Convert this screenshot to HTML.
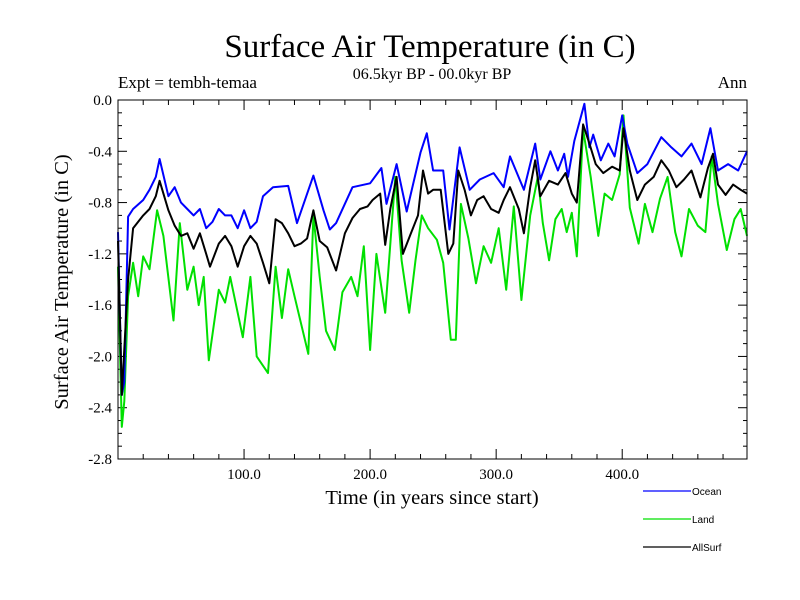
<!DOCTYPE html>
<html><head><meta charset="utf-8"><style>
html,body{margin:0;padding:0;background:#fff;width:800px;height:600px;overflow:hidden}
svg text{font-family:"Liberation Serif",serif}
</style></head><body>
<svg id="chart" width="800" height="600" xmlns="http://www.w3.org/2000/svg">
<text x="430" y="57" font-size="33" text-anchor="middle">Surface Air Temperature (in C)</text>
<text x="432" y="79" font-size="16" text-anchor="middle">06.5kyr BP - 00.0kyr BP</text>
<text x="118" y="88" font-size="17">Expt = tembh-temaa</text>
<text x="747" y="88" font-size="17" text-anchor="end">Ann</text>
<text transform="translate(68,282) rotate(-90)" font-size="20.5" text-anchor="middle">Surface Air Temperature (in C)</text>
<text x="432" y="504" font-size="20.5" text-anchor="middle">Time (in years since start)</text>
<g id="ticks"></g>
<g id="series"></g>
<rect x="118" y="100" width="629" height="359" fill="none" stroke="#000" stroke-width="1"/>
<g id="legend"></g>
</svg>
<script>
const oceanYears=[0,3,5,8,12,20,25,30,33,40,45,50,55,60,65,70,75,80,85,90,95,100,105,110,115,123,135,142,155,163,168,173,186,200,209,213,221,229,240,245,250,258,263,271,279,287,298,306,311,322,331,335,343,349,354,357,362,370,374,377,383,389,394,400,404,412,420,431,439,447,455,463,470,476,484,492,499];
const oceanVals=[-1.03,-2.3,-2.2,-0.91,-0.85,-0.78,-0.7,-0.6,-0.46,-0.75,-0.68,-0.8,-0.85,-0.9,-0.85,-1.0,-0.95,-0.85,-0.9,-0.9,-1.0,-0.86,-1.0,-0.95,-0.75,-0.68,-0.67,-0.96,-0.59,-0.86,-1.01,-0.96,-0.68,-0.65,-0.53,-0.81,-0.5,-0.87,-0.41,-0.26,-0.55,-0.55,-1.01,-0.37,-0.7,-0.62,-0.57,-0.68,-0.44,-0.7,-0.34,-0.62,-0.4,-0.55,-0.42,-0.6,-0.32,-0.03,-0.37,-0.27,-0.47,-0.34,-0.44,-0.12,-0.34,-0.57,-0.5,-0.29,-0.37,-0.44,-0.34,-0.5,-0.22,-0.55,-0.5,-0.55,-0.4];
const landYears=[0,3,5,8,12,16,20,25,31,36,44,49,55,60,64,68,72,80,85,89,99,105,110,119,125,130,135,140,151,155,160,165,172,178,185,190,195,200,205,212,220,225,231,236,241,246,253,258,264,268,272,278,284,290,296,302,308,314,320,327,333,337,342,347,352,356,360,364,369,375,381,386,392,398,401,406,413,418,424,430,436,442,447,453,460,466,471,476,483,489,494,499];
const landVals=[-1.3,-2.55,-2.35,-1.53,-1.27,-1.53,-1.22,-1.32,-0.86,-1.06,-1.72,-0.96,-1.48,-1.3,-1.6,-1.38,-2.03,-1.48,-1.58,-1.38,-1.85,-1.38,-2.0,-2.13,-1.3,-1.7,-1.32,-1.53,-1.98,-0.9,-1.38,-1.8,-1.95,-1.5,-1.38,-1.53,-1.14,-1.95,-1.2,-1.66,-0.6,-1.25,-1.66,-1.25,-0.9,-1.0,-1.09,-1.27,-1.87,-1.87,-0.81,-1.08,-1.43,-1.14,-1.27,-1.0,-1.48,-0.83,-1.56,-0.9,-0.6,-0.96,-1.25,-0.93,-0.85,-1.03,-0.88,-1.22,-0.23,-0.6,-1.06,-0.73,-0.78,-0.58,-0.12,-0.84,-1.12,-0.81,-1.03,-0.77,-0.6,-1.03,-1.22,-0.85,-0.98,-1.03,-0.44,-0.81,-1.17,-0.93,-0.85,-1.06];
const allYears=[0,3,8,12,20,25,30,33,40,45,50,55,60,65,70,73,80,85,90,95,100,105,110,115,120,125,130,135,140,145,150,155,160,166,173,180,186,192,198,202,208,212,216,221,226,232,238,242,246,250,256,262,266,270,275,280,285,290,296,302,306,311,318,322,327,331,335,342,349,355,360,364,369,374,379,385,392,398,401,406,412,418,425,431,437,443,449,455,462,468,472,476,482,488,494,499];
const allVals=[-1.1,-2.3,-1.4,-1.0,-0.9,-0.85,-0.75,-0.63,-0.86,-0.98,-1.06,-1.04,-1.16,-1.04,-1.2,-1.3,-1.12,-1.06,-1.14,-1.3,-1.14,-1.06,-1.12,-1.27,-1.43,-0.93,-0.96,-1.04,-1.14,-1.12,-1.08,-0.86,-1.1,-1.15,-1.33,-1.04,-0.92,-0.85,-0.83,-0.78,-0.73,-1.13,-0.85,-0.6,-1.2,-1.05,-0.9,-0.55,-0.73,-0.7,-0.7,-1.2,-1.12,-0.55,-0.7,-0.9,-0.78,-0.75,-0.85,-0.88,-0.78,-0.68,-0.85,-1.04,-0.68,-0.47,-0.75,-0.63,-0.66,-0.57,-0.73,-0.8,-0.19,-0.34,-0.5,-0.57,-0.52,-0.55,-0.22,-0.55,-0.78,-0.66,-0.6,-0.47,-0.55,-0.68,-0.62,-0.55,-0.76,-0.53,-0.42,-0.66,-0.74,-0.66,-0.7,-0.73];
const xTickLabels=["100.0","200.0","300.0","400.0"];
const xTickValues=[100,200,300,400];
const yTickValues=[0,-0.4,-0.8,-1.2,-1.6,-2.0,-2.4,-2.8];
const yTickLabels=["0.0","-0.4","-0.8","-1.2","-1.6","-2.0","-2.4","-2.8"];

const L=118,R=747,T=100,B=459,XMAX=499,YMIN=-2.8,YMAX=0;
function sx(t){return L+(t/XMAX)*(R-L);}
function sy(v){return T+(YMAX-v)/(YMAX-YMIN)*(B-T);}
const NS="http://www.w3.org/2000/svg";
function mk(tag,attrs,parent){const e=document.createElementNS(NS,tag);for(const k in attrs)e.setAttribute(k,attrs[k]);parent.appendChild(e);return e;}
const tk=document.getElementById('ticks');
for(let v=0;v>=-2.8001;v-=0.1){
  const y=sy(v);const major=Math.abs(Math.round(v*10)%4)===0;const len=major?9:4;
  let l=mk('line',{x1:L,x2:L+len,y1:y,y2:y,stroke:'#000'},tk);
  
  
  let r=mk('line',{x1:R-len,x2:R,y1:y,y2:y,stroke:'#000'},tk);
  
  
}
yTickValues.forEach((v,i)=>{
  const t=mk('text',{x:112,y:sy(v)+5,'font-size':15,'text-anchor':'end'},tk);t.textContent=yTickLabels[i];
  
  
});
for(let t=20;t<XMAX;t+=20){
  const x=sx(t);const major=t%100===0;const len=major?10:5;
  let a=mk('line',{x1:x,x2:x,y1:B,y2:B-len,stroke:'#000'},tk);
  
  
  let b=mk('line',{x1:x,x2:x,y1:T,y2:T+len,stroke:'#000'},tk);
  
  
}
xTickValues.forEach((v,i)=>{
  const t=mk('text',{x:sx(v),y:479,'font-size':15,'text-anchor':'middle'},tk);t.textContent=xTickLabels[i];
  
  
});
const sg=document.getElementById('series');
function draw(years,vals,color,name){
  const d=years.map((t,i)=>(i?'L':'M')+sx(t).toFixed(1)+','+sy(vals[i]).toFixed(1)).join(' ');
  const p=mk('path',{d:d,fill:'none',stroke:color,'stroke-width':2,'stroke-linejoin':'round'},sg);
  
  
}
draw(landYears,landVals,'#00e000','land-line');
draw(oceanYears,oceanVals,'#0000ff','ocean-line');
draw(allYears,allVals,'#000000','allsurf-line');
const lg=document.getElementById('legend');
[['Ocean','#0000ff',491],['Land','#00e000',519],['AllSurf','#000',547]].forEach(([n,c,y])=>{
  const l=mk('line',{x1:643,x2:691,y1:y,y2:y,stroke:c,'stroke-width':1.3},lg);
  
  
  const t=mk('text',{x:692,y:y+4,'font-size':10,style:'font-family:"Liberation Sans",sans-serif'},lg);t.textContent=n;
  
  
});
</script>
</body></html>
